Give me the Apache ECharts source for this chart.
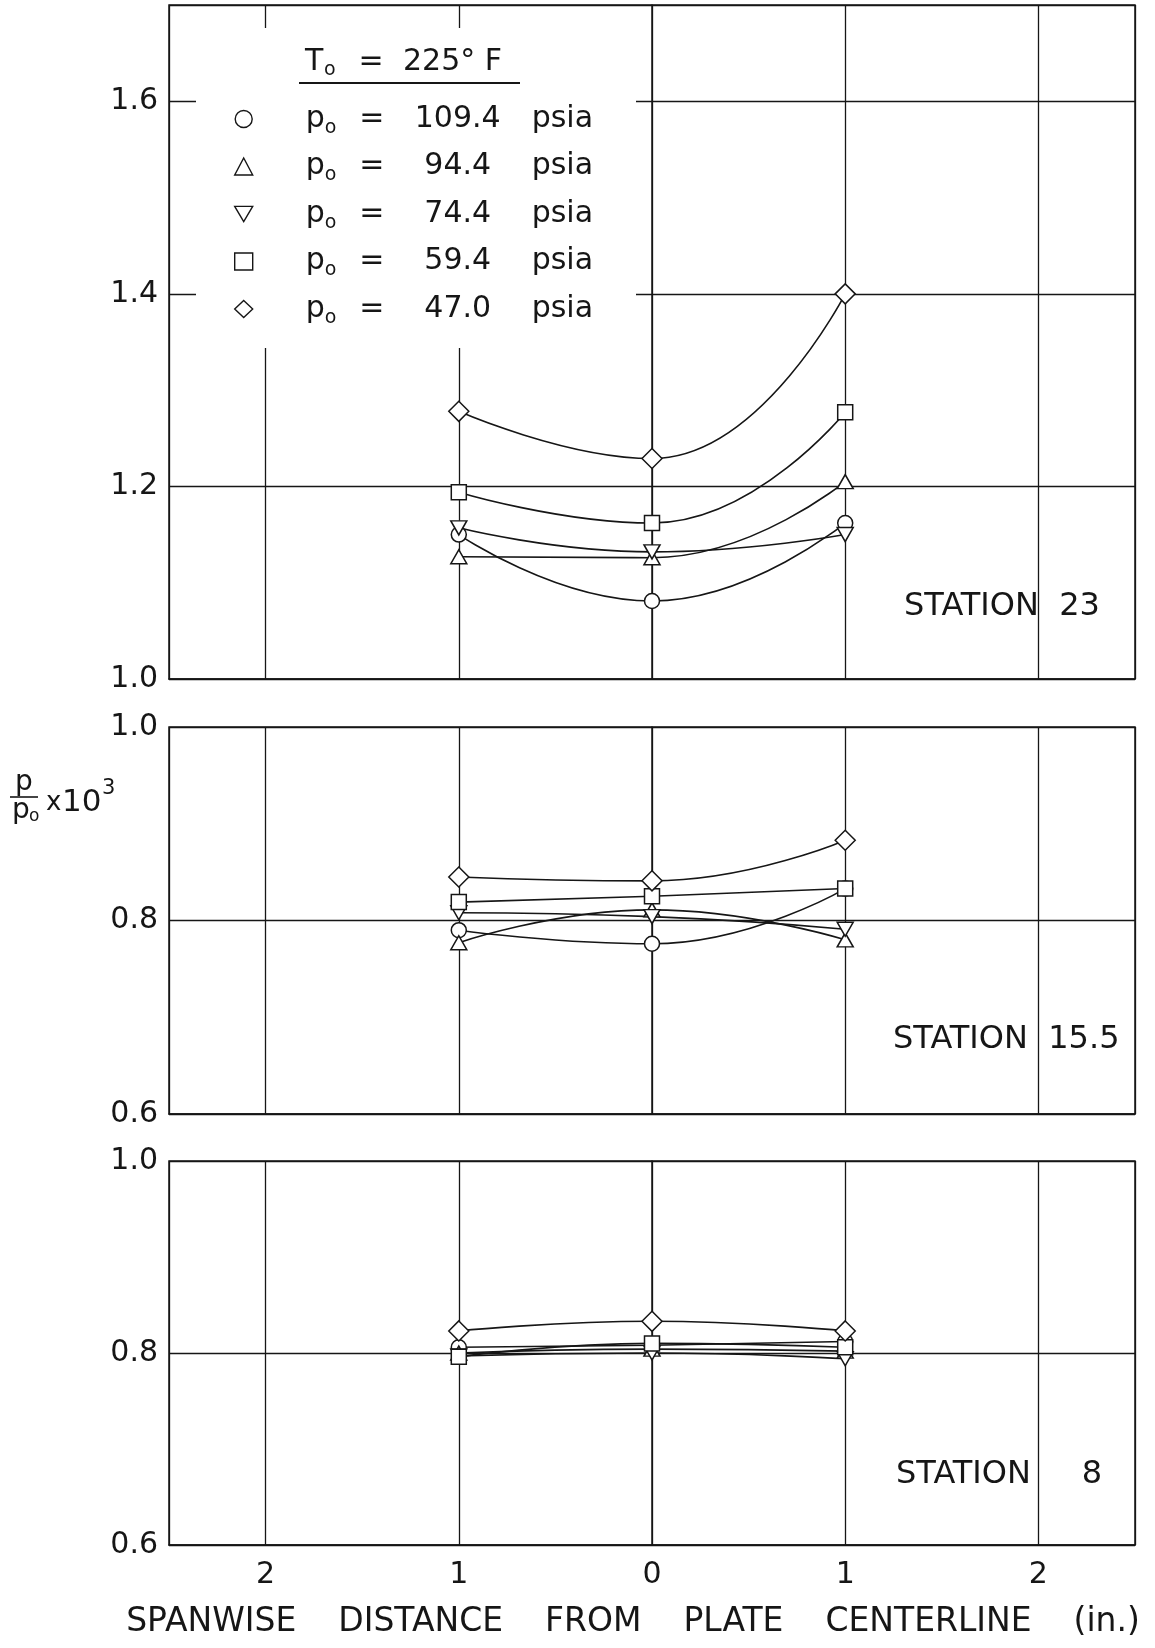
<!DOCTYPE html>
<html><head><meta charset="utf-8">
<script src="https://cdn.jsdelivr.net/npm/echarts@6/dist/echarts.min.js"></script>
<style>html,body{margin:0;padding:0;background:#fff}#c{width:1155px;height:1648px}</style>
</head><body><div id="c"></div>
<script>
// ---- data ----
const spanwise = [-1, 0, 1];                       // spanwise distance (in.), signed
const xTickValues = [-2, -1, 0, 1, 2];
const xTickLabels = ['2', '1', '0', '1', '2'];
const pressures = ['109.4', '94.4', '74.4', '59.4', '47.0'];   // p_o, psia
const stationNames = ['STATION  23', 'STATION  15.5', 'STATION     8'];

// Station 23
const st23_p1094 = [1.150, 1.081, 1.162];
const st23_p944  = [1.127, 1.126, 1.205];
const st23_p744  = [1.157, 1.132, 1.150];
const st23_p594  = [1.194, 1.162, 1.277];
const st23_p470  = [1.278, 1.229, 1.400];
// Station 15.5
const st155_p1094 = [0.790, 0.776, 0.833];
const st155_p944  = [0.777, 0.811, 0.780];
const st155_p744  = [0.808, 0.804, 0.791];
const st155_p594  = [0.819, 0.825, 0.833];
const st155_p470  = [0.845, 0.841, 0.883];
// Station 8
const st8_p1094 = [0.806, 0.808, 0.812];
const st8_p944  = [0.800, 0.804, 0.802];
const st8_p744  = [0.797, 0.800, 0.794];
const st8_p594  = [0.796, 0.810, 0.806];
const st8_p470  = [0.823, 0.833, 0.823];

const stationData = [
  [st23_p1094, st23_p944, st23_p744, st23_p594, st23_p470],
  [st155_p1094, st155_p944, st155_p744, st155_p594, st155_p470],
  [st8_p1094, st8_p944, st8_p744, st8_p594, st8_p470]
];
const yMin = [1.0, 0.6, 0.6];
const yMax = [1.7, 1.0, 1.0];

// ---- styling ----
const INK = '#161616';
const FONT = '"DejaVu Sans", sans-serif';
const INV_TRI = 'path://M0,0L20,0L10,17Z';
const symbols = ['circle', 'triangle', INV_TRI, 'rect', 'diamond'];
const symbolSizes = [15, [16, 14], [16, 14], 15, [20, 20]];

const grids = [
  {left: 169, top: 5, width: 966, height: 674},
  {left: 169, top: 727, width: 966, height: 387},
  {left: 169, top: 1161, width: 966, height: 384}
].map(g => Object.assign(g, {show: true, borderColor: INK, borderWidth: 1.5, backgroundColor: 'transparent'}));

const xAxes = grids.map((g, i) => ({
  type: 'value', gridIndex: i, min: -2.5, max: 2.5, splitNumber: 5,
  axisLine: {show: true, lineStyle: {color: INK, width: 1.5}},
  axisTick: {show: false},
  splitLine: {show: true, lineStyle: {color: INK, width: 1.3}},
  axisLabel: {
    show: i === 2, margin: 15, fontSize: 30, fontFamily: FONT, color: INK,
    formatter: v => { const k = xTickValues.indexOf(Math.round(v * 1000) / 1000); return k >= 0 ? xTickLabels[k] : ''; }
  },
  name: i === 2 ? 'SPANWISE    DISTANCE    FROM    PLATE    CENTERLINE    (in.)' : '',
  nameLocation: 'middle', nameGap: 61,
  nameTextStyle: {fontSize: 33, fontFamily: FONT, color: INK, padding: [0, 38, 0, 0]}
}));

const yAxes = grids.map((g, i) => ({
  type: 'value', gridIndex: i, min: yMin[i], max: yMax[i], interval: 0.2,
  axisLine: {show: true, lineStyle: {color: INK, width: 1.5}},
  axisTick: {show: false},
  splitLine: {show: true, lineStyle: {color: INK, width: 1.3}},
  axisLabel: {
    margin: 11, fontSize: 30, fontFamily: FONT, color: INK,
    formatter: v => (Math.abs(v - 1.7) < 1e-6 ? '' : v.toFixed(1))
  }
}));

const series = [];
stationData.forEach((set, g) => {
  set.forEach((vals, i) => {
    series.push({
      type: 'line', name: pressures[i], xAxisIndex: g, yAxisIndex: g,
      data: spanwise.map((x, k) => [x, vals[k]]),
      smooth: 0.5, symbol: symbols[i], symbolSize: symbolSizes[i],
      lineStyle: {color: INK, width: 1.6},
      itemStyle: {color: '#fff', borderColor: INK, borderWidth: 1.5},
      emphasis: {disabled: true}, z: 3
    });
  });
});

const txt = (x, y, text, size, extra) => Object.assign({
  type: 'text', x, y, z: 30,
  style: Object.assign({text, fill: INK, font: size + 'px ' + FONT,
    textAlign: 'left', align: 'left', textVerticalAlign: 'middle', verticalAlign: 'middle'}, extra || {})
});

const rs = (o) => Object.assign({fontFamily: FONT, color: INK, fontSize: 30, lineHeight: 40}, o);

const option = {
  animation: false,
  backgroundColor: '#fff',
  grid: grids, xAxis: xAxes, yAxis: yAxes, series,
  legend: {
    orient: 'vertical', left: 234, top: 99, itemWidth: 18, itemHeight: 17, itemGap: 7.5,
    selectedMode: false, z: 20, padding: 0,
    data: pressures.map((p, i) => ({name: p, icon: ['circle', 'triangle', INV_TRI, 'rect', 'diamond'][i]})),
    itemStyle: {color: '#fff', borderColor: INK, borderWidth: 1.4},
    formatter: name => `{sp| }{p|p}{o|o}{eq|=}{n|${name}}{u|psia}`,
    textStyle: {
      fontFamily: FONT, fontSize: 30, color: INK, lineHeight: 40,
      rich: {
        sp: rs({width: 48}),
        p: rs({width: 19}),
        o: rs({width: 13, fontSize: 19, lineHeight: 22, padding: [18, 0, 0, 0]}),
        eq: rs({width: 68, align: 'center'}),
        n: rs({width: 104, align: 'right'}),
        u: rs({padding: [0, 0, 0, 22]})
      }
    }
  },
  graphic: [
    {type: 'rect', z: 10, shape: {x: 196, y: 28, width: 440, height: 320}, style: {fill: '#fff'}},
    txt(305, 62, 'T', 30),
    txt(324, 70, 'o', 19),
    txt(371, 62, '=', 30, {textAlign: 'center', align: 'center'}),
    txt(403, 62, '225° F', 30),
    {type: 'line', z: 30, shape: {x1: 299, y1: 83, x2: 520, y2: 83}, style: {stroke: INK, lineWidth: 2}},
    // y axis title  p/po x 10^3
    txt(24, 783, 'p', 28, {textAlign: 'center', align: 'center'}),
    {type: 'line', z: 30, shape: {x1: 10, y1: 797, x2: 38, y2: 797}, style: {stroke: INK, lineWidth: 1.6}},
    txt(12, 811, 'p', 28),
    txt(29, 817, 'o', 17),
    txt(46, 803, 'x', 26),
    txt(62, 803, '10', 31),
    txt(102, 789, '3', 21),
    // station labels
    txt(904, 607, stationNames[0], 32),
    txt(893, 1040, stationNames[1], 32),
    txt(896, 1475, stationNames[2], 32)
  ]
};

const chart = echarts.init(document.getElementById('c'), null, {renderer: 'canvas'});
chart.setOption(option);
</script>
</body></html>
